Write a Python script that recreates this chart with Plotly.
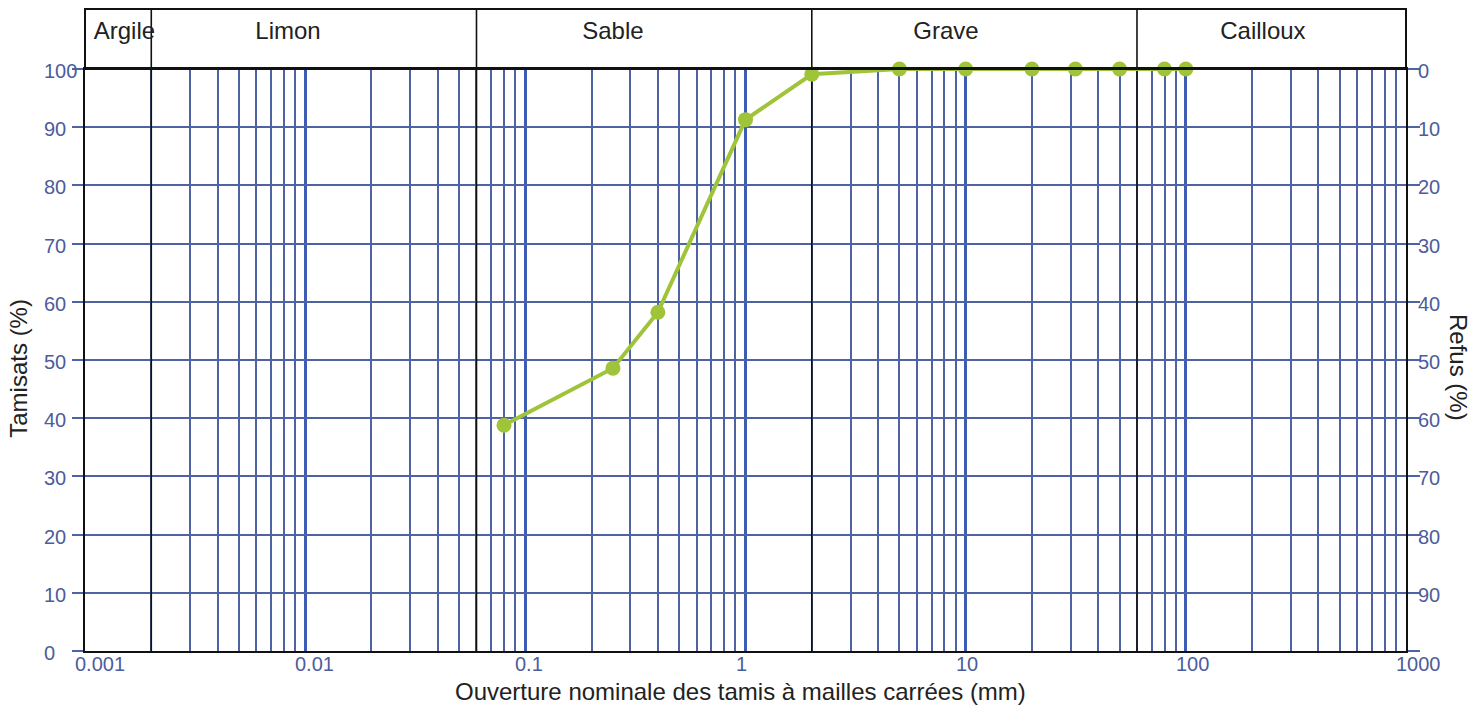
import math
import plotly.graph_objects as go

# ---------------- data ----------------
sieve_mm = [0.08, 0.25, 0.4, 1, 2, 5, 10, 20, 31.5, 50, 80, 100]
passing_pct = [38.8, 48.6, 58.2, 91.3, 99.1, 100, 100, 100, 100, 100, 100, 100]

zone_names = ["Argile", "Limon", "Sable", "Grave", "Cailloux"]
zone_label_x = [0.00151, 0.00836, 0.25, 8.14, 224]
zone_bounds = [0.002, 0.06, 2, 60]

x_ticks = [0.001, 0.01, 0.1, 1, 10, 100, 1000]
x_tick_text = ["0.001", "0.01", "0.1", "1", "10", "100", "1000"]
y_ticks = [0, 10, 20, 30, 40, 50, 60, 70, 80, 90, 100]
refus_labels = [0, 10, 20, 30, 40, 50, 60, 70, 80, 90]

# ---------------- style ----------------
FONT = "Liberation Sans, Arial, sans-serif"
TICK_COLOR = "#4c5c9c"
GRID_MINOR = "#4d63a4"
GRID_MAJOR = "#3d5cb4"
GREEN = "#9fc43a"
# page body has an 8px margin: compensate so the plot lands where the reference has it
W, H = 1472, 697
ML, MR, MT, MB = 77, 74, 1, 54
plot_h = H - MT - MB
DOM = 582 / plot_h

minor_vals = [m * 10 ** e for e in range(-3, 3) for m in range(2, 10)]

fig = go.Figure()

# zone boundaries on main plot
bx, by = [], []
for b in zone_bounds:
    bx += [b, b, None]
    by += [0, 100, None]
fig.add_trace(go.Scatter(x=bx, y=by, mode="lines", line=dict(color="#111111", width=1.6),
                         hoverinfo="skip", showlegend=False, xaxis="x", yaxis="y"))

# zone boundaries in the band
bx2, by2 = [], []
for b in zone_bounds:
    bx2 += [b, b, None]
    by2 += [0, 1, None]
fig.add_trace(go.Scatter(x=bx2, y=by2, mode="lines", line=dict(color="#111111", width=1.6),
                         hoverinfo="skip", showlegend=False, xaxis="x2", yaxis="y3"))

# zone labels
fig.add_trace(go.Scatter(x=zone_label_x, y=[0.6] * len(zone_names), mode="text",
                         text=zone_names, textposition="middle center",
                         textfont=dict(family=FONT, size=24, color="#222222"),
                         hoverinfo="skip", showlegend=False, xaxis="x2", yaxis="y3",
                         cliponaxis=False))

# curve
fig.add_trace(go.Scatter(x=sieve_mm, y=passing_pct, mode="lines+markers",
                         line=dict(color=GREEN, width=4),
                         marker=dict(color=GREEN, size=15),
                         showlegend=False, xaxis="x", yaxis="y", cliponaxis=False))

# dummy trace for right axis
fig.add_trace(go.Scatter(x=[1], y=[None], mode="lines", showlegend=False,
                         hoverinfo="skip", xaxis="x", yaxis="y2"))

annotations = []
tickfont = dict(family=FONT, size=20, color=TICK_COLOR)
for v, t in zip(x_ticks, x_tick_text):
    annotations.append(dict(x=math.log10(v), xref="x", y=0, yref="paper", text=t,
                            showarrow=False, xanchor="left", yanchor="middle",
                            xshift=-12, yshift=-13, font=tickfont))
for v in y_ticks:
    annotations.append(dict(x=0, xref="paper", y=v, yref="y", text=str(v),
                            showarrow=False, xanchor="left", yanchor="middle",
                            xshift=-43, yshift=-2, font=tickfont))
for r in refus_labels:
    annotations.append(dict(x=1, xref="paper", y=100 - r, yref="y", text=str(r),
                            showarrow=False, xanchor="left", yanchor="middle",
                            xshift=10, yshift=-2, font=tickfont))

titlefont = dict(family=FONT, size=24, color="#222222")
annotations.append(dict(x=0.5, xref="paper", y=0, yref="paper",
                        text="Ouverture nominale des tamis à mailles carrées (mm)",
                        showarrow=False, xanchor="center", yanchor="middle",
                        xshift=-5, yshift=-40, font=titlefont))
annotations.append(dict(x=0, xref="paper", y=48.5, yref="y", text="Tamisats (%)",
                        showarrow=False, textangle=-90, xanchor="center", yanchor="middle",
                        xshift=-66, font=titlefont))
annotations.append(dict(x=1, xref="paper", y=48.8, yref="y", text="Refus (%)",
                        showarrow=False, textangle=90, xanchor="center", yanchor="middle",
                        xshift=52, font=titlefont))

fig.update_layout(
    width=W, height=H,
    margin=dict(l=ML, r=MR, t=MT, b=MB),
    paper_bgcolor="white", plot_bgcolor="white",
    showlegend=False,
    xaxis=dict(type="log", range=[-3, 3], domain=[0, 1], anchor="y",
               tickmode="array", tickvals=x_ticks, showticklabels=False, ticks="",
               showgrid=True, gridcolor=GRID_MAJOR, gridwidth=3,
               minor=dict(tickmode="array", tickvals=minor_vals, showgrid=True,
                          gridcolor=GRID_MINOR, gridwidth=1.8, ticks=""),
               showline=True, linecolor="#111111", linewidth=2, mirror=True,
               zeroline=False, fixedrange=True),
    xaxis2=dict(type="log", range=[-3, 3], domain=[0, 1], anchor="y3",
                showgrid=False, showticklabels=False, ticks="", showline=False,
                zeroline=False, fixedrange=True),
    yaxis=dict(range=[0, 100], domain=[0, DOM], anchor="x",
               tickmode="array", tickvals=y_ticks, showticklabels=False,
               ticks="outside", ticklen=11, tickwidth=2, tickcolor=GRID_MINOR,
               showgrid=True, gridcolor=GRID_MINOR, gridwidth=2,
               showline=True, linecolor="#111111", linewidth=2, mirror=True,
               zeroline=False, fixedrange=True),
    yaxis2=dict(range=[0, 100], overlaying="y", side="right", anchor="x",
                tickmode="array", tickvals=y_ticks, showticklabels=False,
                ticks="outside", ticklen=12, tickwidth=2, tickcolor=GRID_MINOR,
                showgrid=False, showline=True, linecolor="#111111", linewidth=2,
                zeroline=False, fixedrange=True),
    yaxis3=dict(range=[0, 1], domain=[DOM, 1], anchor="x2",
                showgrid=False, showticklabels=False, ticks="", showline=False,
                zeroline=False, fixedrange=True),
    shapes=[dict(type="rect", xref="paper", yref="paper", x0=0, x1=1, y0=DOM, y1=1,
                 line=dict(color="#111111", width=2), fillcolor="rgba(0,0,0,0)")],
    annotations=annotations,
)

fig.write_html("out.html")
